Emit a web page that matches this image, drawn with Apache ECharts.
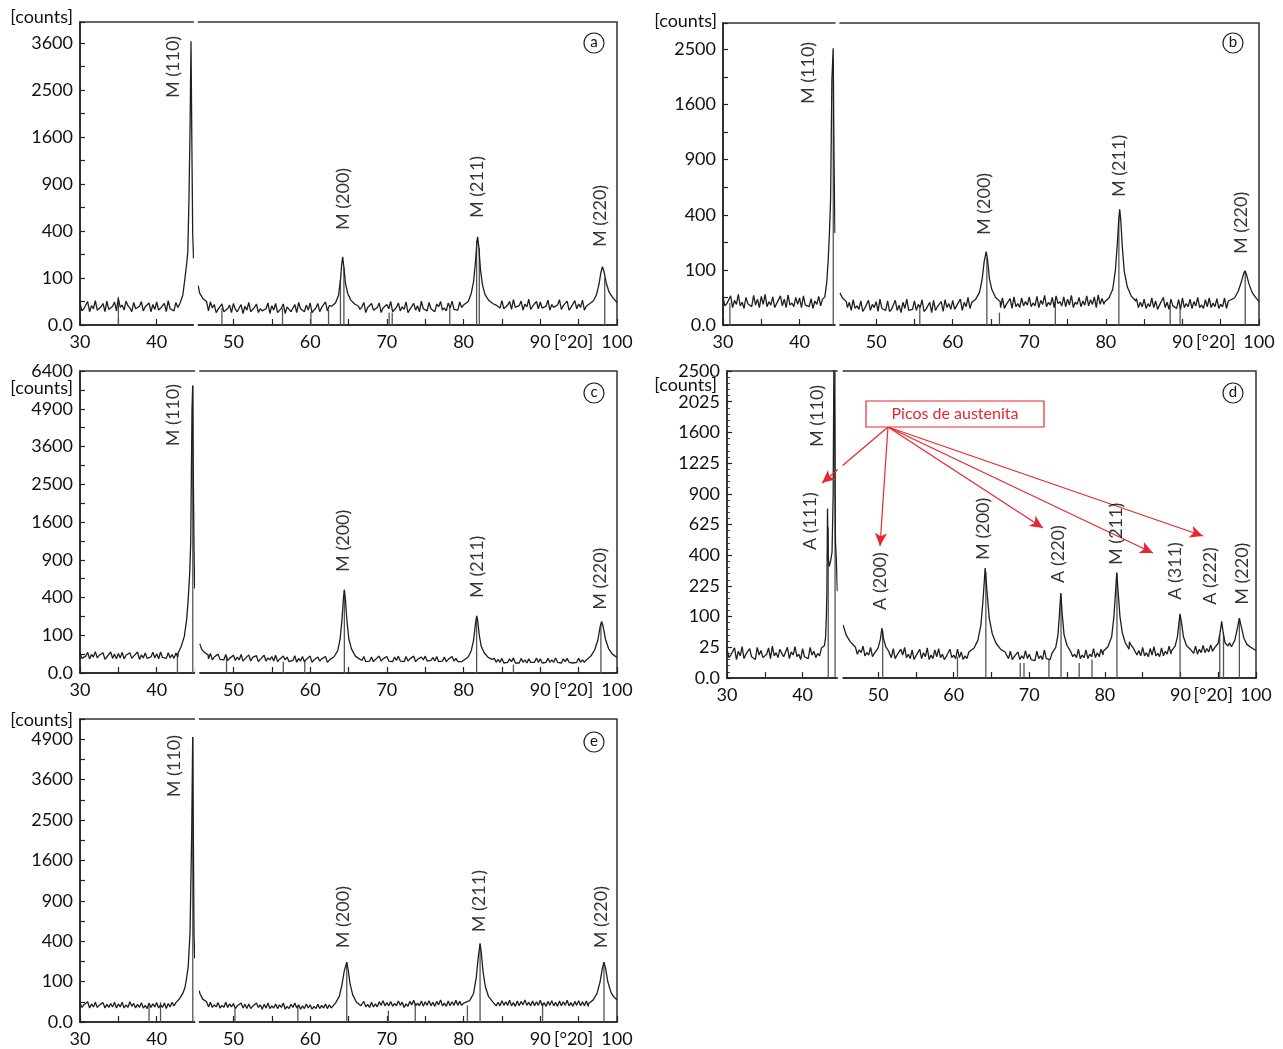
<!DOCTYPE html>
<html>
<head>
<meta charset="utf-8">
<script src="https://cdn.jsdelivr.net/npm/echarts@6/dist/echarts.min.js"></script>
<style>
html,body{margin:0;padding:0;background:#fff;}
#c{width:1283px;height:1049px;}
</style>
</head>
<body>
<div id="c"></div>
<script>
// ---------- tick labels ----------
const xLabels = ['30','40','50','60','70','80','90','100'];
const xUnit = '[°20]';
const yLabelsA = ['0.0','100','400','900','1600','2500','3600'];
const yLabelsB = ['0.0','100','400','900','1600','2500'];
const yLabelsC = ['0.0','100','400','900','1600','2500','3600','4900','6400'];
const yLabelsD = ['0.0','25','100','225','400','625','900','1225','1600','2025','2500'];
const yLabelsE = ['0.0','100','400','900','1600','2500','3600','4900'];

// ---------- background counts, 2θ = 30.00 .. 100.00 every 0.5° ----------
const bgA = [
22,12,25,17,27,10,21,26,14,24,
32,18,26,13,23,11,25,15,22,19,
24,13,21,27,15,23,20,25,30,28,
30,26,22,16,24,19,11,20,9,18,
21,8,19,16,23,10,20,12,7,22,
17,21,9,20,15,8,19,23,11,18,
22,10,21,14,24,17,16,20,30,25,
25,18,24,11,23,14,21,9,22,13,
19,25,10,22,15,24,11,21,17,26,
14,23,12,20,25,13,22,26,11,24,
20,22,30,40,50,40,30,22,19,17,
27,14,25,29,13,26,20,30,16,25,
24,12,28,19,15,29,17,26,14,27,
20,28,16,30,20,25,40,60,30,25,
22];
const bgB = [
26,15,28,20,31,17,25,14,29,22,
27,31,18,26,15,28,22,30,16,25,
24,28,14,23,19,27,30,60,100,60,
40,25,18,17,21,12,19,9,20,14,
18,22,10,19,8,20,13,17,22,9,
19,14,21,8,17,20,11,18,21,15,
20,12,22,17,25,14,23,25,60,100,
50,25,19,24,14,23,26,15,24,18,
26,16,27,20,29,17,25,28,18,26,
22,29,17,25,19,28,21,26,30,23,
25,40,80,60,40,25,24,19,23,17,
22,15,24,19,13,25,17,22,12,21,
24,15,22,18,25,13,21,24,16,23,
14,24,19,26,18,30,60,95,40,25,
18];
const bgC = [
28,19,30,24,32,22,29,18,31,25,
27,30,22,29,20,31,23,28,19,30,
26,31,21,29,24,28,30,60,100,60,
40,30,28,23,27,18,25,17,24,15,
22,18,24,14,23,17,21,13,22,16,
19,22,13,20,18,12,21,15,19,13,
20,12,18,14,19,11,20,16,20,30,
40,25,20,14,19,12,18,13,20,14,
19,13,18,20,12,19,14,20,13,18,
20,13,17,19,12,18,13,19,15,12,
18,20,40,50,40,30,20,17,15,13,
15,10,14,16,9,15,12,14,10,16,
14,9,15,12,16,10,14,15,11,10,
15,12,16,13,15,20,40,80,40,25,
17];
const bgD = [
22,14,24,19,26,15,23,12,25,20,
13,24,27,17,22,12,25,18,26,15,
23,14,25,19,16,24,26,30,60,60,
60,45,35,28,26,21,27,17,25,16,
40,30,24,16,23,14,22,25,15,21,
13,22,17,24,14,21,23,15,12,22,
14,22,18,13,21,16,24,20,25,40,
50,30,24,20,14,19,12,18,13,20,
15,11,19,13,21,12,19,14,20,24,
30,22,15,22,14,21,15,23,17,22,
22,28,45,80,100,70,40,28,24,20,
25,17,23,26,16,24,19,27,20,29,
30,28,26,20,27,22,28,23,29,24,
30,40,28,33,60,40,30,26,23,21,
20];
const bgE = [
22,18,25,20,24,17,23,19,21,24,
20,24,18,25,21,19,23,17,22,20,
23,18,22,21,24,23,30,60,100,60,
40,28,22,21,24,18,23,17,24,20,
21,16,22,19,20,15,22,18,19,22,
16,20,18,22,15,19,22,18,16,20,
18,15,19,17,20,18,17,22,40,80,
60,30,24,22,26,19,24,20,25,28,
23,26,21,27,24,20,26,29,22,27,
25,28,24,26,30,22,27,25,29,26,
22,26,40,60,90,60,40,26,27,24,
28,25,29,23,27,26,30,24,27,25,
29,23,26,28,24,27,25,29,23,26,
28,25,27,24,26,25,40,80,60,35,
30];

// ---------- background counts, 2θ = 30.25 .. 99.75 every 0.5° ----------
const bgA2 = [
9,14,8,12,10,15,8,11,16,9,
14,10,17,8,12,16,9,13,8,11,
10,15,8,12,9,14,22,28,30,28,
28,24,14,9,13,7,14,8,12,7,
11,13,6,10,8,14,7,9,12,6,
10,7,13,6,11,9,7,12,8,10,
7,13,8,11,9,15,18,24,30,25,
22,12,8,15,7,12,10,14,7,11,
12,8,14,9,11,7,13,10,8,12,
9,12,8,15,10,9,13,11,10,14,
21,25,35,45,45,35,25,20,18,13,
12,18,11,14,17,10,15,11,19,12,
13,16,10,14,18,11,15,10,17,12,
14,10,16,12,22,30,50,40,28,24];
const bgB2 = [
12,16,10,14,12,9,15,11,13,10,
14,11,13,10,16,12,10,13,11,14,
10,13,11,9,14,12,25,40,80,60,
30,20,10,7,9,8,6,8,7,10,
6,9,7,6,10,7,5,9,7,8,
7,10,6,8,5,7,9,6,10,8,
8,10,7,11,9,10,18,40,80,70,
35,14,10,9,12,9,11,10,12,13,
11,12,10,14,11,13,10,15,12,11,
13,10,14,11,13,12,14,10,14,14,
30,60,70,50,30,20,12,11,10,11,
9,11,10,8,11,10,8,12,9,8,
10,11,9,12,10,9,11,10,11,9,
11,9,12,10,22,45,80,60,30,20];
const bgC2 = [
15,20,14,18,16,21,13,17,15,14,
16,14,18,15,17,13,16,15,18,16,
14,17,15,16,15,18,40,80,100,50,
35,26,16,14,12,15,13,12,11,12,
11,12,10,11,10,13,9,11,10,12,
10,9,11,12,9,11,8,10,9,11,
8,9,10,11,8,9,15,18,25,35,
30,20,10,11,9,10,9,11,10,11,
10,9,11,10,9,10,11,9,10,12,
10,11,10,9,10,9,11,10,9,9,
12,30,45,45,35,25,13,10,8,8,
7,8,9,7,7,8,7,8,8,8,
7,8,8,8,8,7,9,8,7,8,
8,8,9,9,15,30,60,60,30,20];
const bgD2 = [
11,15,9,13,10,16,12,9,14,11,
15,10,13,11,16,12,10,14,12,9,
12,10,14,11,13,15,26,40,60,60,
55,40,30,25,15,17,13,14,12,13,
35,25,13,11,10,12,14,11,10,9,
11,10,12,9,10,12,11,9,10,11,
10,11,9,10,11,12,15,22,30,45,
40,25,15,11,10,9,10,9,10,10,
9,8,10,9,10,9,10,11,13,25,
25,12,11,10,11,10,12,11,12,14,
25,35,60,90,85,55,35,24,14,13,
13,12,14,13,12,13,15,15,16,21,
29,25,15,16,15,17,17,18,19,26,
35,35,24,26,50,35,28,25,22,20];
const bgE2 = [
13,15,12,14,13,16,12,13,14,12,
14,12,13,15,12,13,12,11,13,14,
12,13,11,14,16,25,40,80,100,50,
35,25,15,14,13,14,12,13,13,14,
11,13,12,11,11,12,13,10,12,11,
12,11,13,10,11,13,12,10,11,12,
10,11,11,12,11,12,19,30,60,70,
45,25,14,15,14,13,14,14,17,16,
16,15,16,17,13,15,18,16,16,15,
17,16,15,18,16,15,16,17,17,17,
24,30,50,75,75,50,30,24,16,16,
17,17,16,15,16,18,17,16,16,17,
16,15,17,16,15,16,17,16,15,17,
16,16,15,15,23,30,60,70,45,32];

// ---------- peak profiles [2θ, counts] ----------
const peaksA = [
 [[43.0,20],[43.4,40],[43.7,104],[43.9,170],[44.05,240],[44.2,700],[44.35,1800],[44.47,3650],[44.58,1500],[44.69,384],[44.8,200],[45.4,70],[45.6,46],[46.0,32],[46.5,25]],
 [[62.8,16],[63.3,22],[63.7,40],[63.95,90],[64.1,160],[64.24,211],[64.4,150],[64.6,80],[64.9,45],[65.3,28],[65.8,20],[66.3,16]],
 [[80.0,18],[80.6,25],[81.0,45],[81.3,85],[81.55,180],[81.75,320],[81.84,353],[82.0,270],[82.2,140],[82.45,75],[82.8,42],[83.3,27],[83.9,20]],
 [[96.3,19],[96.9,26],[97.3,40],[97.65,75],[97.9,125],[98.1,154],[98.3,130],[98.6,80],[98.95,50],[99.4,35],[99.8,27],[100,22]]
];
const peaksB = [
 [[43.0,22],[43.3,26],[43.55,60],[43.74,139],[43.9,280],[44.05,514],[44.22,1975],[44.39,2520],[44.5,900],[44.62,278],[45.27,34],[45.6,24],[46.1,18]],
 [[62.5,17],[63.0,22],[63.5,35],[63.85,70],[64.1,130],[64.37,177],[64.55,140],[64.8,70],[65.1,42],[65.6,25],[66.2,18]],
 [[79.8,17],[80.4,24],[80.9,42],[81.25,100],[81.5,220],[81.7,380],[81.81,440],[81.95,360],[82.15,200],[82.4,95],[82.8,48],[83.3,28],[83.9,19]],
 [[96.2,16],[96.8,24],[97.3,38],[97.7,62],[98.0,88],[98.17,97],[98.35,85],[98.7,55],[99.1,35],[99.5,26],[100,18]]
];
const peaksC = [
 [[42.8,28],[43.2,50],[43.6,94],[43.9,200],[44.1,375],[44.3,700],[44.43,1180],[44.6,4840],[44.69,5800],[44.78,2500],[44.88,900],[44.95,500],[45.6,60],[45.86,40],[46.2,30],[46.7,23]],
 [[62.6,13],[63.1,18],[63.6,35],[63.9,80],[64.15,200],[64.35,400],[64.46,485],[64.6,380],[64.8,190],[65.05,80],[65.4,40],[65.9,20],[66.4,14]],
 [[80.0,12],[80.6,18],[81.0,35],[81.3,75],[81.55,170],[81.71,229],[81.85,190],[82.05,100],[82.3,50],[82.7,28],[83.2,17],[83.7,13]],
 [[96.0,12],[96.6,20],[97.1,38],[97.5,75],[97.8,150],[98.0,186],[98.2,150],[98.5,80],[98.9,42],[99.4,25],[100,17]]
];
const peaksD = [
 [[42.6,22],[42.9,28],[43.05,45],[43.15,100],[43.22,200],[43.3,763],[43.38,400],[43.5,330],[43.7,360],[43.9,420],[44.05,900],[44.15,2800],[44.25,1700],[44.35,500],[44.5,330],[44.6,200],[45.35,75],[45.8,48],[46.3,35],[47.0,25]],
 [[49.6,18],[50.0,24],[50.3,40],[50.5,66],[50.7,42],[51.0,26],[51.4,19]],
 [[62.0,18],[62.7,24],[63.2,38],[63.6,75],[63.9,170],[64.16,320],[64.4,200],[64.7,95],[65.1,52],[65.6,32],[66.2,22],[66.8,18]],
 [[73.0,16],[73.5,25],[73.8,50],[74.0,110],[74.17,191],[74.35,110],[74.6,50],[75.0,28],[75.5,18]],
 [[79.8,19],[80.4,26],[80.9,45],[81.2,100],[81.42,200],[81.57,295],[81.75,200],[82.0,100],[82.3,55],[82.7,33],[83.2,22]],
 [[88.8,19],[89.3,27],[89.6,45],[89.8,80],[89.95,109],[90.15,80],[90.4,45],[90.8,28],[91.3,22]],
 [[94.6,24],[95.0,32],[95.25,55],[95.46,85],[95.65,55],[95.9,33],[96.3,27]],
 [[96.8,27],[97.2,38],[97.5,62],[97.8,95],[98.05,70],[98.4,42],[98.8,30],[99.3,25],[100,20]]
];
const peaksE = [
 [[43.0,34],[43.4,50],[43.7,75],[43.9,120],[44.1,185],[44.34,480],[44.56,2175],[44.69,4980],[44.78,2000],[44.86,480],[44.95,250],[45.55,60],[45.64,49],[46.0,32],[46.5,25]],
 [[62.8,15],[63.3,22],[63.8,40],[64.15,85],[64.45,160],[64.77,220],[64.95,170],[65.2,90],[65.55,45],[66.0,25],[66.6,16]],
 [[80.2,21],[80.8,28],[81.3,50],[81.65,120],[81.9,250],[82.15,377],[82.3,300],[82.55,150],[82.85,75],[83.25,40],[83.8,25]],
 [[96.3,21],[96.9,30],[97.4,50],[97.8,100],[98.1,180],[98.3,220],[98.5,180],[98.8,100],[99.2,55],[99.6,38],[100,30]]
];

// ---------- reference sticks [2θ, counts] ----------
const sticksA = [[35.0,36],[48.5,13],[56.4,13],[60.1,8],[62.4,10],[63.95,90],[64.4,150],[70.3,7],[70.7,7],[78.2,13],[81.7,320],[82.05,270],[98.4,100]];
const sticksB = [[30.9,16],[44.4,2000],[55.7,13],[64.46,150],[66.1,5],[73.4,18],[81.7,380],[88.4,13],[89.7,9.5],[98.2,95]];
const sticksC = [[42.7,28],[44.7,5800],[49.1,19],[56.5,9],[59.3,12],[64.46,485],[81.7,229],[86.5,5],[97.9,170]];
const sticksD = [[43.4,600],[44.3,2800],[50.6,60],[60.5,12],[64.25,300],[68.8,6],[69.3,6],[72.6,9],[74.2,185],[76.6,6],[78.3,9],[81.6,290],[89.95,105],[95.2,50],[95.7,50],[97.8,92]];
const sticksE = [[39.0,17],[40.5,24],[44.7,4980],[50.2,11],[58.4,17],[64.77,220],[70.2,8],[73.7,21],[80.5,17],[82.15,377],[90.3,21],[98.3,220]];

// ---------- scan gaps (2θ range) ----------
const gapA = [44.85, 45.35];
const gapB = [44.7, 45.2];
const gapC = [45.0, 45.55];
const gapD = [44.65, 45.3];
const gapE = [45.0, 45.5];

// ---------- peak labels [text, 2θ, counts of label foot] ----------
const labelsA = [['M (110)',42.12,2333],['M (200)',64.28,408],['M (211)',81.75,518],['M (220)',97.79,275]];
const labelsB = [['M (110)',41.08,1607],['M (200)',64.11,266],['M (211)',81.78,539],['M (220)',97.61,166]];
const labelsC = [['M (110)',42.12,3608],['M (200)',64.28,717],['M (211)',81.75,396],['M (220)',97.79,280]];
const labelsD = [['M (110)',41.94,1414],['A (111)',41.0,435],['A (200)',50.27,123],['M (200)',63.9,370],['A (220)',73.8,240],['M (211)',81.5,339],['A (311)',89.3,162],['A (222)',93.9,142],['M (220)',98.2,142]];
const labelsE = [['M (110)',42.25,3094],['M (200)',64.28,333],['M (211)',82.0,493],['M (220)',97.92,333]];

// ---------- austenite arrows (panel d) [2θ, counts] ----------
const arrowFrom = [51.3, 1671];
const arrowTo = [[42.57,1009],[50.25,462],[71.82,597],[86.37,414],[92.99,535]];
const boxText = 'Picos de austenita';
const panelLetters = ['a','b','c','d','e'];

// ================= build =================
const FONT = 'Lato';
const INK = '#111';
const RED = '#e8262d';

function buildCurve(bg, bg2, peaks, gap) {
  const pts = [];
  const inPeak = x => peaks.some(p => x >= p[0][0] && x <= p[p.length - 1][0]);
  bg.forEach((v, i) => { const x = 30 + i * 0.5; if (!inPeak(x)) pts.push([x, v]); });
  bg2.forEach((v, i) => { const x = 30.25 + i * 0.5; if (!inPeak(x)) pts.push([x, v]); });
  peaks.forEach(p => p.forEach(q => pts.push(q)));
  pts.sort((a, b) => a[0] - b[0]);
  const out = [];
  let broke = false;
  pts.forEach(([x, v]) => {
    if (x > gap[0] && x < gap[1]) return;
    if (!broke && x >= gap[1]) { out.push([(gap[0] + gap[1]) / 2, '-']); broke = true; }
    out.push([x, Math.sqrt(v)]);
  });
  return out;
}

const panels = [
  {bg:bgA, bg2:bgA2, peaks:peaksA, sticks:sticksA, gap:gapA, labels:labelsA, yLabels:yLabelsA, yStep:10, yMax:64.5, minor:2,
   grid:{left:80, top:22, width:537, height:303}, counts:[73,17], letter:[594,43]},
  {bg:bgB, bg2:bgB2, peaks:peaksB, sticks:sticksB, gap:gapB, labels:labelsB, yLabels:yLabelsB, yStep:10, yMax:54.8, minor:2,
   grid:{left:723, top:23, width:536, height:302}, counts:[717,21], letter:[1233,43]},
  {bg:bgC, bg2:bgC2, peaks:peaksC, sticks:sticksC, gap:gapC, labels:labelsC, yLabels:yLabelsC, yStep:10, yMax:80, minor:2,
   grid:{left:80, top:371, width:537, height:302}, counts:[73,388], letter:[594,393]},
  {bg:bgD, bg2:bgD2, peaks:peaksD, sticks:sticksD, gap:gapD, labels:labelsD, yLabels:yLabelsD, yStep:5, yMax:50, minor:5,
   grid:{left:727, top:371, width:529, height:307}, counts:[717,385], letter:[1233,393]},
  {bg:bgE, bg2:bgE2, peaks:peaksE, sticks:sticksE, gap:gapE, labels:labelsE, yLabels:yLabelsE, yStep:10, yMax:75, minor:2,
   grid:{left:80, top:719, width:537, height:303}, counts:[73,720], letter:[594,742]}
];

const grids = [], xAxes = [], yAxes = [], series = [];
panels.forEach((p, i) => {
  grids.push(Object.assign({show:true, borderColor:'#333', borderWidth:1.5, containLabel:false}, p.grid));
  xAxes.push({
    type:'value', gridIndex:i, min:30, max:100, interval:5,
    axisLine:{show:true, onZero:false, lineStyle:{color:'#222', width:1.5}},
    axisTick:{show:true, inside:true, length:6, lineStyle:{color:'#222', width:1.2}},
    splitLine:{show:false},
    axisLabel:{
      fontFamily:FONT, fontSize:18, color:INK, margin:8,
      formatter: v => {
        if (v % 10 === 0) return xLabels[(v - 30) / 10];
        if (v === 95) return '{u|' + xUnit + '}';
        return '';
      },
      rich:{u:{fontFamily:FONT, fontSize:18, color:INK, padding:[0,10,0,0]}}
    }
  });
  yAxes.push({
    type:'value', gridIndex:i, min:0, max:p.yMax, interval:5,
    axisLine:{show:true, lineStyle:{color:'#222', width:1.5}},
    axisTick:{show:true, inside:true, length:5, lineStyle:{color:'#222', width:1.2}},
    minorTick:{show:p.minor === 5, splitNumber:5, length:3, lineStyle:{color:'#444', width:1}},
    splitLine:{show:false},
    axisLabel:{
      fontFamily:FONT, fontSize:18, color:INK, margin:7,
      formatter: v => {
        const k = v / p.yStep;
        return (Number.isInteger(k) && p.yLabels[k] !== undefined) ? p.yLabels[k] : '';
      }
    }
  });
  series.push({
    type:'bar', xAxisIndex:i, yAxisIndex:i, barWidth:1.3, silent:true, z:1,
    itemStyle:{color:'#555'},
    data:p.sticks.map(s => [s[0], Math.sqrt(s[1])])
  });
  const line = {
    type:'line', xAxisIndex:i, yAxisIndex:i, showSymbol:false, symbol:'none', clip:true,
    connectNulls:false, silent:true, z:2,
    lineStyle:{color:'#1e1e1e', width:1.3},
    data:buildCurve(p.bg, p.bg2, p.peaks, p.gap)
  };
  if (i === 3) {
    line.markLine = {
      silent:true, symbol:['none','arrow'], symbolSize:[9,13], animation:false,
      label:{show:false},
      lineStyle:{color:RED, width:1.2, type:'solid'},
      data:arrowTo.map(t => [
        {coord:[arrowFrom[0], Math.sqrt(arrowFrom[1])]},
        {coord:[t[0], Math.sqrt(t[1])]}
      ])
    };
  }
  series.push(line);
  series.push({
    type:'scatter', xAxisIndex:i, yAxisIndex:i, symbolSize:1, silent:true, z:5,
    itemStyle:{color:'rgba(0,0,0,0)'},
    data:p.labels.map(l => ({name:l[0], value:[l[1], Math.sqrt(l[2])]})),
    label:{show:true, formatter:'{b}', position:'inside', rotate:90, align:'left', verticalAlign:'middle',
           fontFamily:FONT, fontSize:18, color:'#000'}
  });
});

const chart = echarts.init(document.getElementById('c'), null, {renderer:'canvas'});
chart.setOption({
  animation:false,
  backgroundColor:'#fff',
  grid:grids, xAxis:xAxes, yAxis:yAxes, series:series
});

// decorations (gap positions derived from the axes)
const els = [];
panels.forEach((p, i) => {
  const lo = chart.convertToPixel({gridIndex:i}, [p.gap[0], 0]);
  const hi = chart.convertToPixel({gridIndex:i}, [p.gap[1], p.yMax]);
  els.push({type:'rect', z:50, silent:true,
    shape:{x:lo[0], y:hi[1] - 3, width:Math.max(3, hi[0] - lo[0]), height:lo[1] - hi[1] + 6},
    style:{fill:'#fff'}});
  els.push({type:'text', z:60, silent:true,
    style:{text:'[counts]', x:p.counts[0], y:p.counts[1], align:'right', verticalAlign:'middle',
           font:'18px ' + FONT, fill:INK}});
  els.push({type:'circle', z:60, silent:true,
    shape:{cx:p.letter[0], cy:p.letter[1], r:10},
    style:{fill:'#fff', stroke:'#222', lineWidth:1.2}});
  els.push({type:'text', z:61, silent:true,
    style:{text:panelLetters[i], x:p.letter[0], y:p.letter[1] - 1, align:'center', verticalAlign:'middle',
           font:'15px ' + FONT, fill:INK}});
});
els.push({type:'rect', z:60, silent:true,
  shape:{x:866, y:401, width:178, height:26},
  style:{fill:'#fff', stroke:RED, lineWidth:1.2}});
els.push({type:'text', z:61, silent:true,
  style:{text:boxText, x:955, y:414, align:'center', verticalAlign:'middle', font:'16px ' + FONT, fill:RED}});
chart.setOption({graphic:{elements:els}});
</script>
</body>
</html>
